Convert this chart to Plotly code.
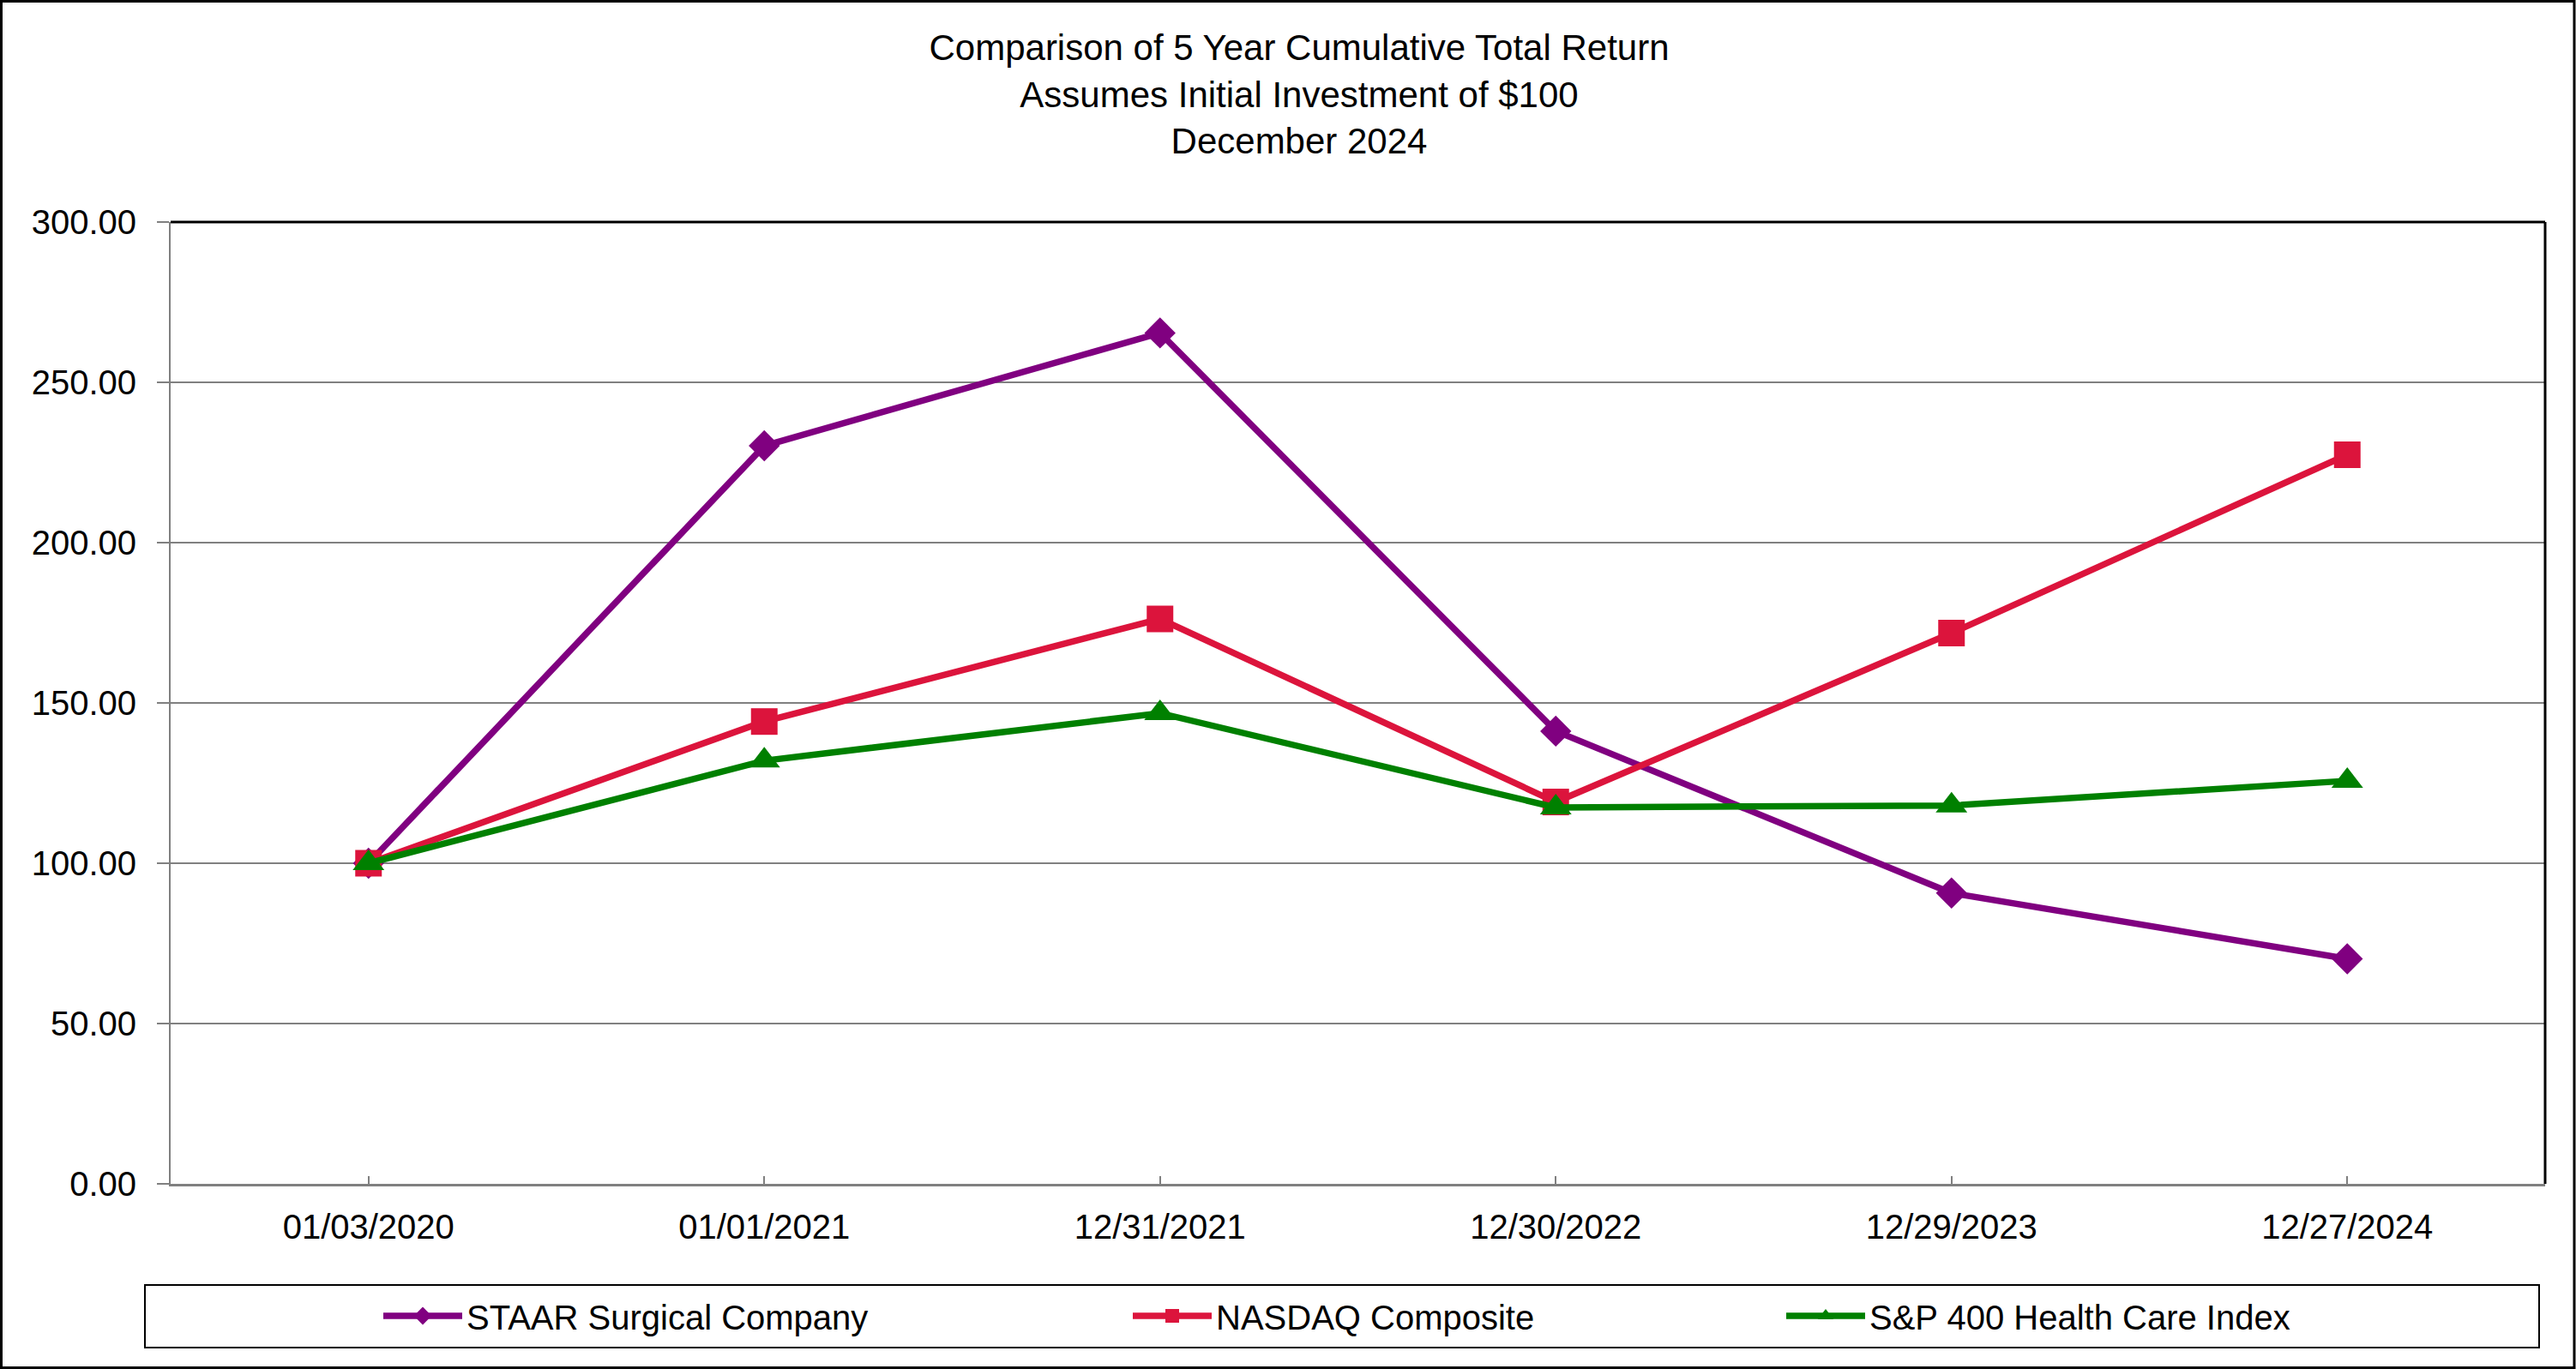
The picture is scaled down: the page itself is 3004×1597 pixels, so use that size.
import plotly.graph_objects as go

dates = ["01/03/2020", "01/01/2021", "12/31/2021", "12/30/2022", "12/29/2023", "12/27/2024"]
staar = [100.00, 230.2, 265.4, 141.2, 90.7, 70.2]
nasdaq = [100.00, 144.2, 176.2, 119.1, 171.8, 227.4]
sp400hc = [100.00, 132.0, 146.8, 117.4, 118.0, 125.7]
y_ticks = [0, 50, 100, 150, 200, 250, 300]

FW, FH = 3004, 1597
L, R, T, B = 199, 2968, 259, 1381
PW, PH = R - L, B - T

def px(x):
    return (x - L) / PW

def py(y):
    return (B - y) / PH

FONT = "Arial, Liberation Sans, sans-serif"

fig = go.Figure()
series = [
    ("STAAR Surgical Company", staar, "#800080", "diamond", 28, "legend"),
    ("NASDAQ Composite", nasdaq, "#DC143C", "square", 31, "legend2"),
    ("S&P 400 Health Care Index", sp400hc, "#008000", "triangle-up", 32, "legend3"),
]
for name, vals, col, sym, sz, lg in series:
    fig.add_trace(go.Scatter(
        x=dates, y=vals, name=name, mode="lines+markers",
        line=dict(color=col, width=7.5),
        marker=dict(symbol=sym, size=sz, color=col),
        legend=lg, hoverinfo="skip",
    ))

leg_common = dict(orientation="h", bgcolor="rgba(0,0,0,0)", borderwidth=0,
                  font=dict(family=FONT, size=40, color="black"),
                  yanchor="middle", y=py(1535), xanchor="left", itemwidth=92)

shapes = [
    dict(type="rect", xref="paper", yref="paper", x0=px(1.5), x1=px(3002), y0=py(1595.5), y1=py(1.5),
         line=dict(color="black", width=3), layer="below"),
    dict(type="line", xref="paper", yref="paper", x0=0, x1=1, y0=1, y1=1,
         line=dict(color="black", width=3)),
    dict(type="line", xref="paper", yref="paper", x0=1, x1=1, y0=0, y1=1,
         line=dict(color="black", width=3)),
    dict(type="rect", xref="paper", yref="paper", x0=px(169), x1=px(2961), y0=py(1572), y1=py(1499),
         line=dict(color="black", width=2), layer="below"),
]

fig.update_layout(
    width=FW, height=FH,
    margin=dict(l=L, r=FW - R, t=T, b=FH - B, pad=0),
    paper_bgcolor="white", plot_bgcolor="white",
    font=dict(family=FONT, size=40, color="black"),
    title=dict(
        text="Comparison of 5 Year Cumulative Total Return<br>Assumes Initial Investment of $100<br>December 2024",
        font=dict(family=FONT, size=42, color="black"),
        x=1515 / FW, xanchor="center", xref="container",
        y=1 - 70 / FH, yanchor="middle", yref="container",
    ),
    xaxis=dict(
        type="category", range=[-0.5, 5.5],
        showline=True, linecolor="#808080", linewidth=3,
        ticks="inside", ticklen=9, tickcolor="#808080", tickwidth=2,
        showgrid=False, zeroline=False,
        tickfont=dict(family=FONT, size=40, color="black"),
        ticklabelstandoff=13,
    ),
    yaxis=dict(
        range=[0, 300], tickvals=y_ticks, tickformat=".2f",
        showline=True, linecolor="#808080", linewidth=2,
        ticks="outside", ticklen=14, tickcolor="#808080", tickwidth=2,
        showgrid=True, gridcolor="#808080", gridwidth=2,
        zeroline=False,
        tickfont=dict(family=FONT, size=40, color="black"),
        ticklabelstandoff=16,
    ),
    legend=dict(**leg_common, x=px(442)),
    legend2=dict(**leg_common, x=px(1316)),
    legend3=dict(**leg_common, x=px(2078)),
    shapes=shapes,
    showlegend=True,
)

fig.write_html("out.html", config={"displayModeBar": False},
               post_script="document.body.style.margin='0';document.body.style.padding='0';")
